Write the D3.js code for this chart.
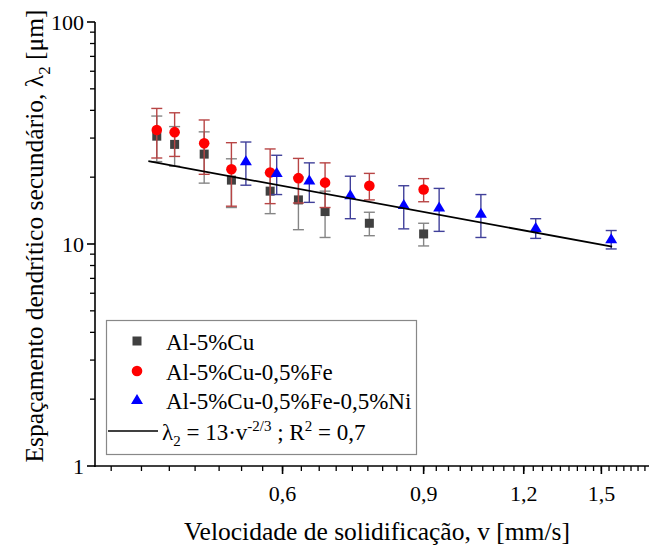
<!DOCTYPE html>
<html>
<head>
<meta charset="utf-8">
<script src="https://cdn.jsdelivr.net/npm/d3@7"></script>
<style>
  body { margin: 0; background: #fff; }
</style>
</head>
<body>
<script>
// velocity values (mm/s) and spacings (um)
var vCu = [0.418, 0.440, 0.479, 0.518, 0.579, 0.628, 0.678, 0.770, 0.900];
var lamCu = [30.6, 28.1, 25.4, 19.4, 17.3, 15.8, 14.0, 12.4, 11.1];
var errCu = [7.1, 5.7, 6.6, 4.8, 3.6, 4.2, 3.3, 1.5, 1.3];

var vFe = [0.418, 0.440, 0.479, 0.518, 0.579, 0.628, 0.678, 0.770, 0.900];
var lamFe = [32.6, 31.9, 28.4, 21.7, 21.0, 19.8, 18.9, 18.3, 17.6];
var errFe = [8.2, 7.1, 7.8, 6.9, 5.8, 4.5, 4.3, 2.5, 2.1];

var vNi = [0.540, 0.590, 0.648, 0.729, 0.850, 0.941, 1.061, 1.242, 1.543];
var lamNi = [23.6, 20.9, 19.3, 16.6, 15.0, 14.6, 13.7, 11.8, 10.5];
var errNi = [5.2, 4.2, 3.9, 3.6, 3.3, 3.2, 3.0, 1.2, 1.0];

// fitted power law end points
var fitV = [0.408, 1.547];
var fitLam = [23.6, 9.72];

var xTickLabels = ["0,6", "0,9", "1,2", "1,5"];
var xTickValues = [0.6, 0.9, 1.2, 1.5];
var yTickValues = [1, 10, 100];
var legendNames = ["Al-5%Cu", "Al-5%Cu-0,5%Fe", "Al-5%Cu-0,5%Fe-0,5%Ni"];

var width = 654, height = 546;
var serif = '"Liberation Serif", "Times New Roman", Times, "DejaVu Serif", serif';

var svg = d3.select("body").append("svg")
    .attr("width", width)
    .attr("height", height)
    .attr("font-family", serif);

var x = d3.scaleLog().domain([0.35, 1.72]).range([95, 649]);
var y = d3.scaleLog().domain([1, 100]).range([466, 22]);

// minor ticks on x every 1/30
var xMinor = d3.range(11, 52).map(function(i) { return i / 30; })
    .filter(function(v) { return v > 0.351 && v < 1.72; });
var yMinor = [];
[1, 10].forEach(function(d) {
  for (var k = 2; k <= 9; k++) yMinor.push(d * k);
});

var axes = svg.append("g");

// x axis
axes.append("line")
    .attr("x1", 94).attr("x2", 649)
    .attr("y1", 466).attr("y2", 466)
    .attr("stroke", "#000").attr("stroke-width", 1.6);
axes.selectAll(".xminor").data(xMinor).enter().append("line")
    .attr("x1", function(d) { return x(d); }).attr("x2", function(d) { return x(d); })
    .attr("y1", 466).attr("y2", 471)
    .attr("stroke", "#000").attr("stroke-width", 1.3);
axes.selectAll(".xmajor").data(xTickValues).enter().append("line")
    .attr("x1", function(d) { return x(d); }).attr("x2", function(d) { return x(d); })
    .attr("y1", 466).attr("y2", 474)
    .attr("stroke", "#000").attr("stroke-width", 1.6);
axes.selectAll(".xlab").data(xTickValues).enter().append("text")
    .attr("x", function(d) { return x(d); })
    .attr("y", 501)
    .attr("text-anchor", "middle")
    .attr("font-size", 22)
    .text(function(d, i) { return xTickLabels[i]; });

// y axis
axes.append("line")
    .attr("x1", 95).attr("x2", 95)
    .attr("y1", 22).attr("y2", 467)
    .attr("stroke", "#000").attr("stroke-width", 1.6);
axes.selectAll(".yminor").data(yMinor).enter().append("line")
    .attr("x1", 90).attr("x2", 95)
    .attr("y1", function(d) { return y(d); }).attr("y2", function(d) { return y(d); })
    .attr("stroke", "#000").attr("stroke-width", 1.3);
axes.selectAll(".ymajor").data(yTickValues).enter().append("line")
    .attr("x1", 87).attr("x2", 95)
    .attr("y1", function(d) { return y(d); }).attr("y2", function(d) { return y(d); })
    .attr("stroke", "#000").attr("stroke-width", 1.6);
axes.selectAll(".ylab").data(yTickValues).enter().append("text")
    .attr("x", 84)
    .attr("y", function(d) { return y(d) + 7.5; })
    .attr("text-anchor", "end")
    .attr("font-size", 22)
    .text(function(d) { return d; });

// axis titles
svg.append("text")
    .attr("x", 377).attr("y", 540)
    .attr("text-anchor", "middle")
    .attr("font-size", 25.5)
    .text("Velocidade de solidificação, v [mm/s]");

var yt = svg.append("text")
    .attr("transform", "translate(43,236) rotate(-90)")
    .attr("text-anchor", "middle")
    .attr("font-size", 25.5);
yt.append("tspan").text("Espaçamento dendrítico secundário, λ");
yt.append("tspan").attr("dy", 7).attr("font-size", 17).text("2");
yt.append("tspan").attr("dy", -7).text(" [μm]");

// series
var series = [
  {v: vCu, lam: lamCu, err: errCu, fill: "#404040", bar: "#858585", shape: "square"},
  {v: vFe, lam: lamFe, err: errFe, fill: "#ff0000", bar: "#b84545", shape: "circle"},
  {v: vNi, lam: lamNi, err: errNi, fill: "#0000ff", bar: "#40409a", shape: "triangle"}
];

var plot = svg.append("g");
var capW = 5.5;

series.forEach(function(s) {
  var pts = s.v.map(function(v, i) { return {v: v, lam: s.lam[i], e: s.err[i]}; });
  var g = plot.append("g");
  var bars = g.selectAll(".bar").data(pts).enter().append("g")
      .attr("stroke", s.bar).attr("stroke-width", 1.4).attr("fill", "none");
  bars.append("line")
      .attr("x1", function(d) { return x(d.v); }).attr("x2", function(d) { return x(d.v); })
      .attr("y1", function(d) { return y(d.lam + d.e); })
      .attr("y2", function(d) { return y(d.lam - d.e); });
  bars.append("line")
      .attr("x1", function(d) { return x(d.v) - capW; }).attr("x2", function(d) { return x(d.v) + capW; })
      .attr("y1", function(d) { return y(d.lam + d.e); }).attr("y2", function(d) { return y(d.lam + d.e); });
  bars.append("line")
      .attr("x1", function(d) { return x(d.v) - capW; }).attr("x2", function(d) { return x(d.v) + capW; })
      .attr("y1", function(d) { return y(d.lam - d.e); }).attr("y2", function(d) { return y(d.lam - d.e); });
  s.pts = pts;
  s.g = g;
});

function drawMarker(sel, shape, fill) {
  if (shape === "square") {
    sel.append("rect").attr("x", -4.5).attr("y", -4.5).attr("width", 9).attr("height", 9).attr("fill", fill);
  } else if (shape === "circle") {
    sel.append("circle").attr("r", 5.3).attr("fill", fill);
  } else {
    sel.append("path").attr("d", "M0,-6 L6,4 L-6,4 Z").attr("fill", fill);
  }
}

series.forEach(function(s) {
  var m = s.g.selectAll(".mk").data(s.pts).enter().append("g")
      .attr("transform", function(d) { return "translate(" + x(d.v) + "," + y(d.lam) + ")"; });
  drawMarker(m, s.shape, s.fill);
});

// fit line
plot.append("line")
    .attr("x1", x(fitV[0])).attr("y1", y(fitLam[0]))
    .attr("x2", x(fitV[1])).attr("y2", y(fitLam[1]))
    .attr("stroke", "#000").attr("stroke-width", 1.8);

// legend
var lg = svg.append("g");
lg.append("rect")
    .attr("x", 106.5).attr("y", 320.5)
    .attr("width", 310).attr("height", 134)
    .attr("fill", "#fff").attr("stroke", "#888").attr("stroke-width", 1.2);

var legendRows = [342, 372, 401, 432];
series.forEach(function(s, i) {
  var gm = lg.append("g").attr("transform", "translate(137," + (legendRows[i] - 1) + ")");
  drawMarker(gm, s.shape, s.fill);
  lg.append("text")
      .attr("x", 166).attr("y", legendRows[i] + 8)
      .attr("font-size", 23)
      .text(legendNames[i]);
});
lg.append("line")
    .attr("x1", 108).attr("x2", 158)
    .attr("y1", legendRows[3] - 1).attr("y2", legendRows[3] - 1)
    .attr("stroke", "#000").attr("stroke-width", 1.4);
var ft = lg.append("text")
    .attr("x", 162).attr("y", legendRows[3] + 8)
    .attr("font-size", 23);
ft.append("tspan").text("λ");
ft.append("tspan").attr("dy", 6).attr("font-size", 15).text("2");
ft.append("tspan").attr("dy", -6).text(" = 13·v");
ft.append("tspan").attr("dy", -9).attr("font-size", 15).text("-2/3");
ft.append("tspan").attr("dy", 9).text(" ; R");
ft.append("tspan").attr("dy", -9).attr("font-size", 15).text("2");
ft.append("tspan").attr("dy", 9).text(" = 0,7");
</script>
</body>
</html>
